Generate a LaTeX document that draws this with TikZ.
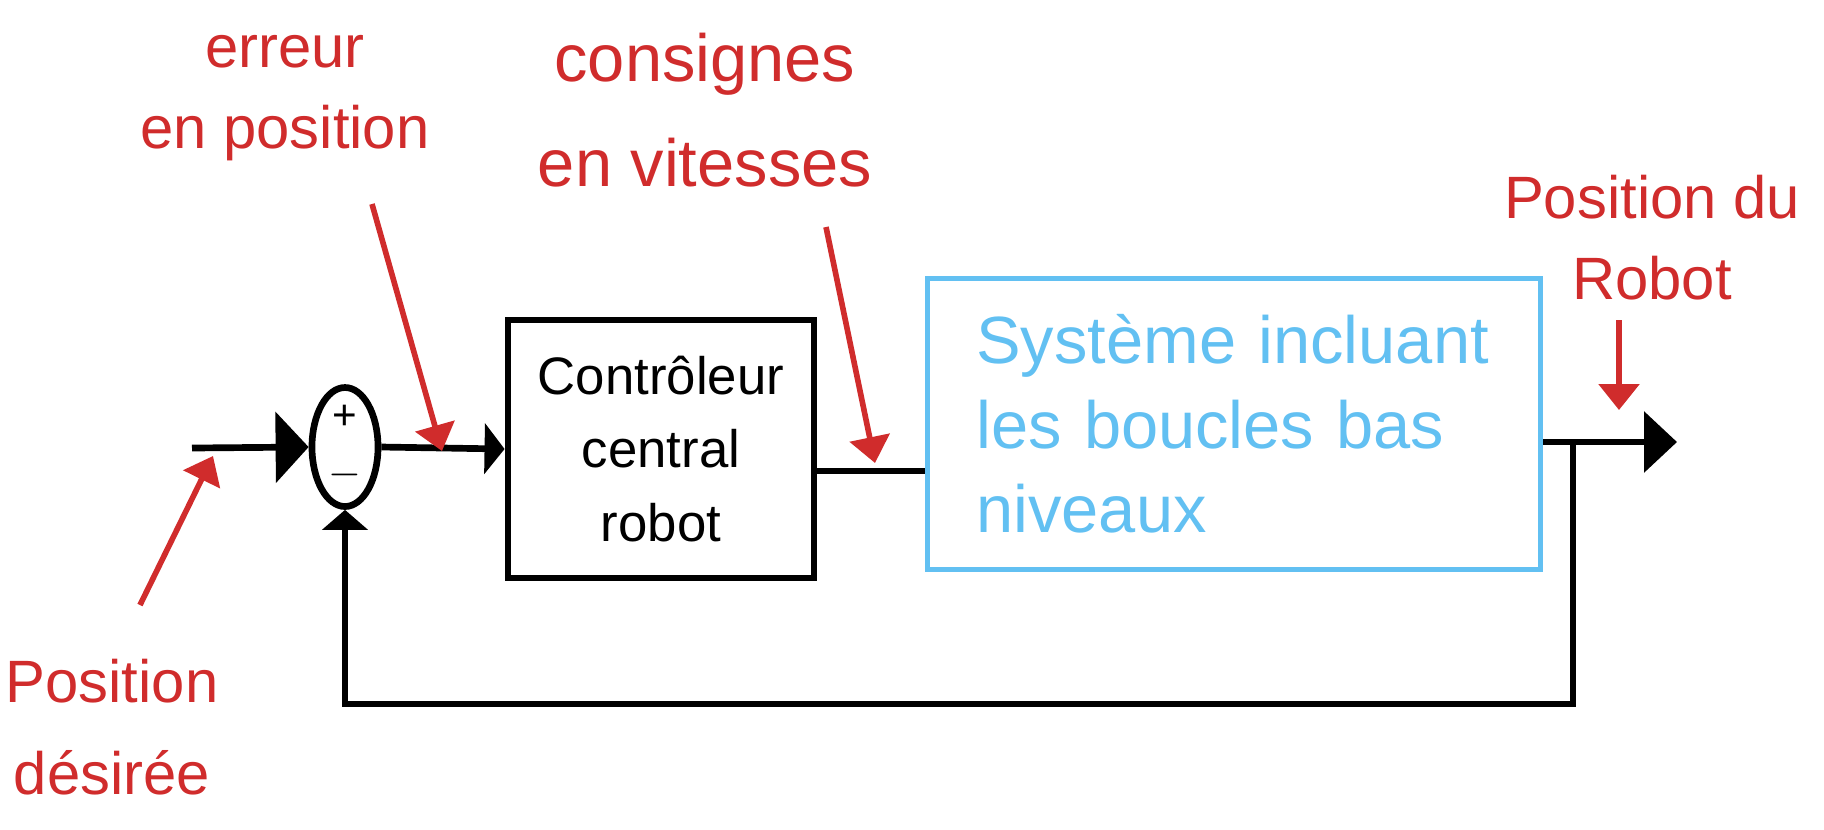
\documentclass[tikz,border=0pt]{standalone}
\usepackage{fontspec}
\setmainfont{Liberation Sans}
\usetikzlibrary{arrows.meta, positioning, shapes.geometric}
\definecolor{rouge}{RGB}{208,44,44}
\definecolor{bleu}{RGB}{98,192,242}

\begin{document}
\begin{tikzpicture}[x=0.01cm, y=-0.01cm, line width=1.9pt, >={Triangle[length=3.3mm, width=7mm]},
  blk/.style={draw, line width=1.9pt, minimum width=3.06cm, minimum height=2.58cm, align=center, font=\fontsize{15}{21}\selectfont},
  sys/.style={draw=bleu, text=bleu, line width=1.5pt, minimum width=6.13cm, minimum height=2.91cm, align=left, text width=5.15cm, font=\fontsize{19}{24}\selectfont},
  lbl/.style={text=rouge, align=center, font=\fontsize{17}{23}\selectfont},
  ra/.style={draw=rouge, line width=1.6pt, -{Triangle[length=2.6mm, width=4mm]}}]
\useasboundingbox (0,0) rectangle (1824,829);
\node[draw, ellipse, minimum width=0.66cm, minimum height=1cm, inner sep=0pt, align=center, font=\fontsize{12}{16}\selectfont] (sum) at (345,447) {+\\$-$};
\node[blk] (ctrl) at (661,449) {Contrôleur\\central\\robot};
\node[sys] (sys) at (1234,424) {Système incluant\\les boucles bas\\niveaux};
\coordinate (in) at (192,448);
\coordinate (out) at (1677,442);
\coordinate (tap) at (1573,442);
\draw[->] (in) -- (sum.west);
\draw[-{Triangle[length=2mm, width=5mm]}] (sum.east) -- (ctrl.west);
\draw ([yshift=-0.22cm]ctrl.east) -- ([yshift=-0.22cm]ctrl.east -| sys.west);
\draw[-{Triangle[length=3.3mm, width=6mm]}] (sys.east |- out) -- (out);
\draw[-{Triangle[length=2mm, width=4.5mm]}] (tap) -- (1573,704) -- (345,704) -- (sum.south);
% labels in red
\node[lbl] (err) at (285,98) {erreur\\en position};
\node[lbl, font=\fontsize{19}{30}\selectfont] (cons) at (705,110) {consignes\\en vitesses};
\node[lbl] (posr) at (1652,238) {Position du\\Robot};
\node[lbl, font=\fontsize{17}{26}\selectfont] (posd) at (112,727) {Position\\désirée};
\coordinate (err0) at (372,204); \coordinate (err1) at (442,451);
\coordinate (cons0) at (826,227); \coordinate (cons1) at (875,463);
\coordinate (posr0) at (1619,320); \coordinate (posr1) at (1619,410);
\coordinate (posd0) at (140,605); \coordinate (posd1) at (213,456);
\draw[ra] (err0) -- (err1);
\draw[ra] (cons0) -- (cons1);
\draw[ra] (posr0) -- (posr1);
\draw[ra] (posd0) -- (posd1);
\end{tikzpicture}
\end{document}
